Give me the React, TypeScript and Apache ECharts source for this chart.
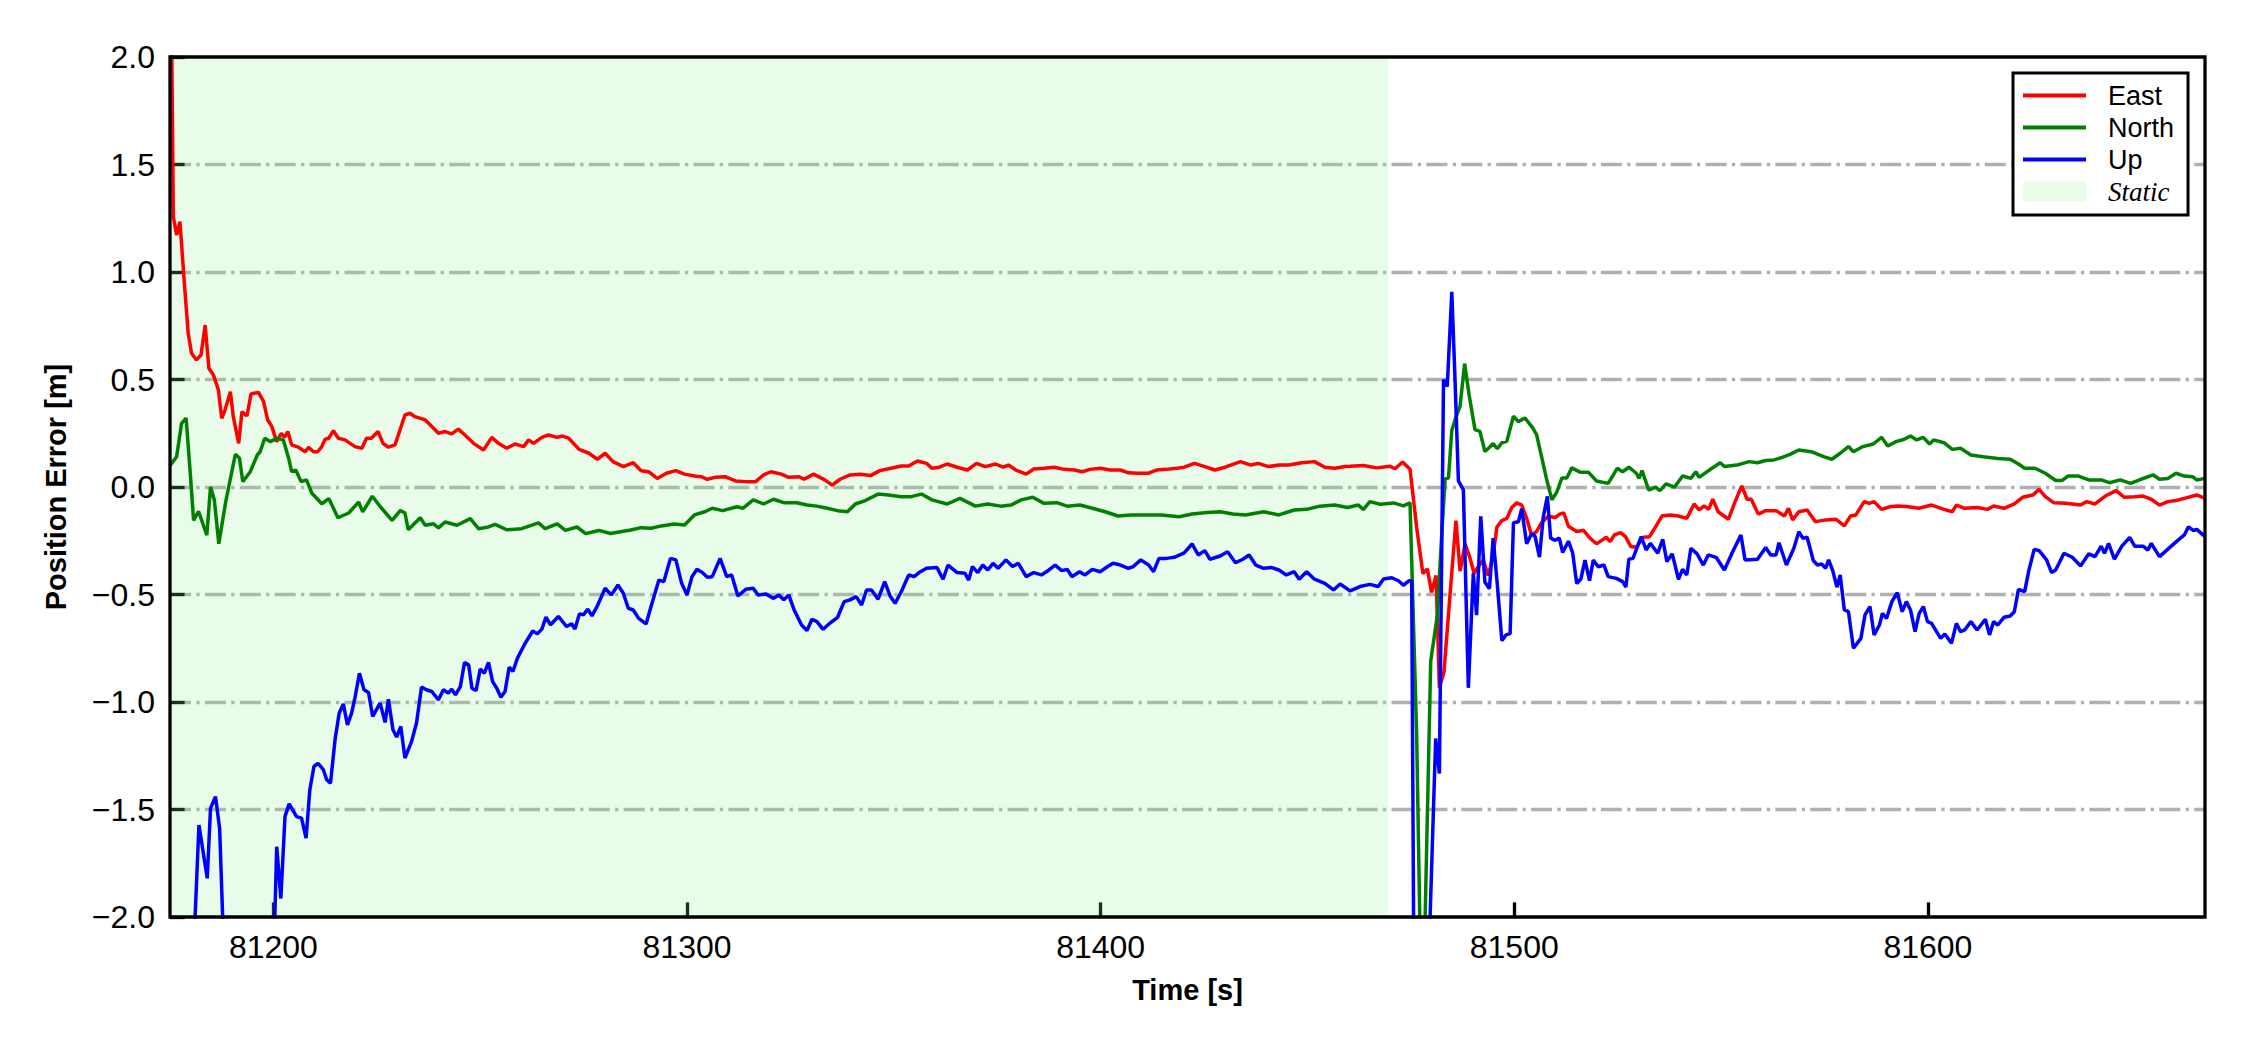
import React, { useEffect, useRef } from "react";
import * as echarts from "echarts";

// ---------------- data ----------------
const X_MIN = 81175;
const X_MAX = 81667;
const STATIC_START = 81175;
const STATIC_END = 81469.5;
const xTicks = [81200, 81300, 81400, 81500, 81600];
const seriesNames = ["East", "North", "Up"];
const staticName = "Static";

const east: [number, number][] = [
  [81175.0, 2.9], [81175.8, 1.257], [81176.6, 1.172], [81177.4, 1.234], [81178.6, 0.916], [81179.4, 0.715],
  [81180.2, 0.622], [81181.4, 0.591], [81182.5, 0.614], [81183.5, 0.753], [81184.4, 0.552], [81185.5, 0.521],
  [81186.7, 0.451], [81187.5, 0.319], [81188.3, 0.358], [81189.6, 0.443], [81190.3, 0.327], [81191.6, 0.203],
  [81192.4, 0.35], [81193.6, 0.33], [81194.6, 0.433], [81196.4, 0.44], [81197.6, 0.398], [81198.6, 0.313],
  [81199.6, 0.282], [81200.8, 0.211], [81201.9, 0.25], [81202.7, 0.231], [81203.5, 0.258], [81204.4, 0.196],
  [81206.0, 0.185], [81207.7, 0.164], [81208.5, 0.185], [81209.7, 0.164], [81210.7, 0.164], [81211.7, 0.188],
  [81212.5, 0.222], [81213.4, 0.227], [81214.5, 0.262], [81215.7, 0.227], [81217.3, 0.219], [81219.7, 0.188],
  [81221.4, 0.18], [81222.5, 0.227], [81223.7, 0.227], [81225.3, 0.258], [81226.5, 0.203], [81227.8, 0.185],
  [81229.4, 0.196], [81230.6, 0.265], [81231.8, 0.335], [81233.0, 0.343], [81234.2, 0.327], [81236.7, 0.312],
  [81238.3, 0.281], [81239.9, 0.25], [81241.5, 0.258], [81243.1, 0.247], [81244.7, 0.269], [81246.3, 0.242],
  [81248.4, 0.203], [81250.8, 0.172], [81252.8, 0.231], [81254.4, 0.203], [81256.4, 0.18], [81258.4, 0.2],
  [81260.5, 0.188], [81261.7, 0.219], [81262.9, 0.203], [81264.9, 0.231], [81266.5, 0.242], [81268.6, 0.231],
  [81269.8, 0.237], [81271.4, 0.227], [81273.9, 0.175], [81276.3, 0.157], [81278.3, 0.129], [81280.2, 0.157],
  [81282.1, 0.118], [81284.6, 0.095], [81287.0, 0.113], [81288.9, 0.076], [81290.7, 0.071], [81292.8, 0.04],
  [81295.0, 0.064], [81297.3, 0.076], [81299.4, 0.06], [81301.8, 0.051], [81303.4, 0.048], [81304.9, 0.036],
  [81306.8, 0.045], [81309.2, 0.048], [81311.7, 0.028], [81314.2, 0.025], [81316.6, 0.025], [81318.5, 0.056],
  [81320.3, 0.071], [81322.8, 0.06], [81324.6, 0.045], [81327.1, 0.048], [81328.3, 0.036], [81330.6, 0.06],
  [81333.3, 0.033], [81335.1, 0.009], [81337.0, 0.036], [81339.4, 0.056], [81341.9, 0.059], [81344.4, 0.053],
  [81346.6, 0.076], [81349.3, 0.087], [81351.8, 0.098], [81353.6, 0.098], [81355.7, 0.121], [81357.9, 0.11],
  [81359.2, 0.087], [81361.0, 0.092], [81362.9, 0.107], [81365.3, 0.092], [81367.8, 0.079], [81370.0, 0.11],
  [81372.1, 0.095], [81374.6, 0.107], [81376.4, 0.092], [81377.7, 0.102], [81379.5, 0.079], [81382.0, 0.06],
  [81383.8, 0.084], [81386.3, 0.087], [81388.8, 0.092], [81391.2, 0.082], [81393.7, 0.079], [81395.6, 0.071],
  [81397.4, 0.082], [81399.9, 0.087], [81402.3, 0.079], [81404.8, 0.079], [81406.7, 0.066], [81409.1, 0.064],
  [81411.6, 0.064], [81413.5, 0.079], [81415.9, 0.082], [81418.4, 0.087], [81420.2, 0.092], [81422.7, 0.11],
  [81425.2, 0.095], [81427.6, 0.079], [81430.1, 0.092], [81433.8, 0.118], [81436.3, 0.102], [81438.1, 0.11],
  [81440.6, 0.095], [81443.1, 0.102], [81445.5, 0.102], [81448.6, 0.113], [81451.7, 0.118], [81454.2, 0.092],
  [81456.6, 0.087], [81459.1, 0.095], [81460.3, 0.096], [81463.5, 0.1], [81466.7, 0.089], [81470.0, 0.096],
  [81471.2, 0.085], [81473.0, 0.116], [81474.8, 0.083], [81476.4, -0.187], [81477.9, -0.402], [81479.0, -0.381],
  [81480.0, -0.49], [81481.1, -0.412], [81481.9, -0.934], [81483.0, -0.862], [81484.5, -0.494], [81485.9, -0.156],
  [81486.9, -0.391], [81488.1, -0.264], [81489.3, -0.33], [81490.3, -0.402], [81491.3, -0.371], [81492.5, -0.34],
  [81493.7, -0.412], [81494.8, -0.33], [81495.8, -0.187], [81497.0, -0.156], [81498.2, -0.146], [81499.4, -0.095],
  [81500.6, -0.074], [81501.8, -0.084], [81503.0, -0.146], [81504.2, -0.224], [81505.4, -0.207], [81506.6, -0.166],
  [81508.2, -0.136], [81509.9, -0.142], [81511.1, -0.125], [81512.0, -0.121], [81513.1, -0.183], [81515.1, -0.207],
  [81516.7, -0.201], [81518.3, -0.238], [81519.9, -0.264], [81520.7, -0.254], [81522.2, -0.234], [81523.2, -0.254],
  [81524.2, -0.223], [81525.7, -0.212], [81526.9, -0.231], [81528.2, -0.277], [81529.5, -0.28], [81531.2, -0.234],
  [81532.7, -0.231], [81534.2, -0.184], [81535.7, -0.135], [81537.7, -0.13], [81539.7, -0.135], [81541.7, -0.146],
  [81543.5, -0.079], [81544.7, -0.107], [81545.9, -0.088], [81547.0, -0.104], [81548.0, -0.057], [81549.3, -0.115],
  [81551.8, -0.15], [81553.3, -0.073], [81555.0, 0.005], [81556.3, -0.057], [81557.3, -0.057], [81559.0, -0.126],
  [81560.8, -0.11], [81563.3, -0.11], [81565.3, -0.135], [81566.3, -0.099], [81567.3, -0.153], [81568.8, -0.115],
  [81570.8, -0.107], [81572.8, -0.161], [81575.3, -0.153], [81577.8, -0.15], [81579.8, -0.181], [81581.3, -0.135],
  [81582.6, -0.13], [81584.6, -0.068], [81585.8, -0.076], [81587.0, -0.068], [81588.8, -0.104], [81590.8, -0.092],
  [81592.8, -0.088], [81595.3, -0.092], [81597.8, -0.099], [81600.9, -0.084], [81603.9, -0.104], [81605.9, -0.115],
  [81606.9, -0.084], [81608.9, -0.099], [81611.9, -0.095], [81614.4, -0.104], [81615.9, -0.088], [81618.4, -0.099],
  [81620.9, -0.079], [81622.9, -0.048], [81625.4, -0.037], [81626.9, -0.011], [81628.4, -0.045], [81630.4, -0.073],
  [81633.4, -0.076], [81636.9, -0.084], [81638.4, -0.068], [81640.4, -0.079], [81642.9, -0.042], [81645.5, -0.017],
  [81647.5, -0.048], [81650.0, -0.045], [81652.0, -0.042], [81654.0, -0.057], [81656.0, -0.084], [81658.0, -0.068],
  [81660.0, -0.063], [81662.0, -0.053], [81665.0, -0.037], [81667.0, -0.053],
];

const north: [number, number][] = [
  [81175.0, 0.1], [81176.6, 0.141], [81177.8, 0.296], [81178.9, 0.32], [81179.9, 0.064], [81180.7, -0.155],
  [81181.9, -0.113], [81183.9, -0.224], [81184.8, 0.0], [81185.7, -0.058], [81186.8, -0.264], [81188.5, -0.065],
  [81190.8, 0.152], [81191.8, 0.134], [81192.6, 0.025], [81194.4, 0.071], [81196.1, 0.149], [81196.8, 0.164],
  [81197.9, 0.227], [81199.3, 0.211], [81200.8, 0.227], [81202.4, 0.219], [81203.7, 0.133], [81204.4, 0.071],
  [81205.4, 0.079], [81206.7, 0.025], [81208.0, 0.033], [81209.3, -0.029], [81211.7, -0.078], [81213.4, -0.054],
  [81215.6, -0.143], [81218.2, -0.121], [81220.6, -0.07], [81221.6, -0.116], [81223.9, -0.043], [81225.9, -0.093],
  [81228.7, -0.155], [81230.7, -0.109], [81231.8, -0.121], [81232.6, -0.199], [81235.5, -0.143], [81236.7, -0.178],
  [81238.7, -0.171], [81239.9, -0.19], [81241.5, -0.163], [81244.4, -0.178], [81247.6, -0.147], [81249.6, -0.194],
  [81252.0, -0.186], [81253.6, -0.174], [81256.4, -0.199], [81260.0, -0.194], [81264.1, -0.167], [81265.7, -0.194],
  [81268.6, -0.171], [81270.6, -0.202], [81273.4, -0.186], [81275.5, -0.217], [81278.7, -0.202], [81281.5, -0.216],
  [81283.9, -0.208], [81286.4, -0.2], [81288.9, -0.189], [81291.3, -0.192], [81293.8, -0.181], [81296.9, -0.172],
  [81299.4, -0.177], [81301.8, -0.13], [81304.3, -0.115], [81306.1, -0.099], [81308.6, -0.11], [81312.1, -0.092],
  [81313.5, -0.099], [81316.0, -0.06], [81318.5, -0.079], [81320.9, -0.057], [81323.4, -0.073], [81326.5, -0.073],
  [81329.0, -0.084], [81331.4, -0.089], [81333.9, -0.099], [81336.4, -0.11], [81338.8, -0.115], [81340.7, -0.079],
  [81343.1, -0.063], [81346.2, -0.033], [81348.7, -0.037], [81351.8, -0.045], [81354.2, -0.045], [81356.7, -0.033],
  [81359.2, -0.06], [81362.9, -0.079], [81366.0, -0.053], [81369.7, -0.089], [81372.7, -0.079], [81375.8, -0.089],
  [81378.3, -0.084], [81380.8, -0.06], [81383.6, -0.048], [81386.3, -0.076], [81389.4, -0.073], [81391.9, -0.089],
  [81395.0, -0.084], [81398.0, -0.099], [81401.1, -0.115], [81404.2, -0.135], [81407.3, -0.13], [81411.0, -0.13],
  [81414.7, -0.13], [81419.0, -0.138], [81422.1, -0.126], [81425.8, -0.119], [81428.9, -0.115], [81432.0, -0.126],
  [81435.0, -0.13], [81439.4, -0.115], [81443.1, -0.13], [81446.8, -0.107], [81449.8, -0.104], [81453.0, -0.089],
  [81456.6, -0.084], [81459.7, -0.095], [81462.3, -0.084], [81463.5, -0.105], [81465.1, -0.068], [81467.6, -0.08],
  [81470.8, -0.074], [81473.2, -0.088], [81474.8, -0.074], [81476.4, -1.148], [81477.2, -2.05], [81477.8, -2.4],
  [81478.4, -2.05], [81479.8, -0.811], [81481.4, -0.596], [81482.5, -0.207], [81483.3, 0.038], [81484.1, 0.042],
  [81484.9, 0.263], [81485.9, 0.325], [81486.9, 0.376], [81488.0, 0.574], [81489.1, 0.427], [81490.5, 0.267],
  [81491.7, 0.259], [81492.9, 0.165], [81494.1, 0.186], [81494.9, 0.202], [81495.9, 0.178], [81497.0, 0.206],
  [81498.2, 0.212], [81499.8, 0.329], [81501.0, 0.304], [81502.6, 0.321], [81504.5, 0.274], [81505.4, 0.243],
  [81506.6, 0.141], [81507.8, 0.038], [81509.1, -0.06], [81510.3, -0.023], [81511.5, 0.042], [81512.7, 0.042],
  [81513.9, 0.089], [81515.9, 0.069], [81517.9, 0.069], [81519.9, 0.028], [81522.7, 0.017], [81524.9, 0.087],
  [81526.2, 0.071], [81527.7, 0.092], [81529.5, 0.064], [81530.2, 0.04], [81530.9, 0.076], [81532.5, -0.014],
  [81534.2, -0.001], [81535.2, -0.017], [81536.7, 0.014], [81538.7, -0.001], [81540.7, 0.051], [81542.7, 0.04],
  [81543.9, 0.071], [81544.7, 0.045], [81546.3, 0.067], [81547.8, 0.087], [81549.8, 0.113], [81550.8, 0.095],
  [81553.8, 0.102], [81556.8, 0.118], [81558.8, 0.113], [81560.8, 0.123], [81562.8, 0.126], [81564.8, 0.138],
  [81566.8, 0.153], [81568.8, 0.172], [81571.8, 0.164], [81574.8, 0.141], [81576.8, 0.129], [81578.8, 0.157],
  [81580.8, 0.188], [81582.0, 0.164], [81584.3, 0.188], [81586.8, 0.2], [81588.8, 0.231], [81590.3, 0.191],
  [81592.3, 0.211], [81594.3, 0.222], [81595.8, 0.237], [81597.3, 0.219], [81598.9, 0.231], [81600.4, 0.2],
  [81601.4, 0.219], [81603.9, 0.206], [81605.9, 0.175], [81607.9, 0.18], [81610.4, 0.149], [81613.4, 0.141],
  [81616.9, 0.133], [81619.9, 0.129], [81621.9, 0.107], [81623.4, 0.087], [81625.9, 0.087], [81628.4, 0.064],
  [81630.9, 0.03], [81632.4, 0.03], [81633.9, 0.051], [81636.4, 0.051], [81638.9, 0.033], [81641.9, 0.033],
  [81643.9, 0.02], [81646.5, 0.033], [81649.0, 0.017], [81651.5, 0.036], [81654.5, 0.056], [81656.0, 0.036],
  [81658.0, 0.04], [81660.0, 0.064], [81662.0, 0.051], [81664.0, 0.048], [81665.0, 0.033], [81667.0, 0.04],
];

const up: [number, number][] = [
  [81175.0, -2.6], [81180.3, -2.35], [81182.0, -1.572], [81184.0, -1.82], [81184.8, -1.494], [81186.0, -1.44],
  [81187.0, -1.588], [81188.8, -2.6], [81192.0, -2.9], [81196.0, -2.8], [81199.5, -2.6], [81200.8, -1.673],
  [81201.8, -1.914], [81202.8, -1.533], [81203.8, -1.474], [81205.6, -1.533], [81206.8, -1.54], [81207.9, -1.633],
  [81208.8, -1.409], [81209.8, -1.3], [81210.8, -1.285], [81212.1, -1.316], [81212.9, -1.362], [81213.8, -1.378],
  [81214.9, -1.176], [81215.9, -1.052], [81216.9, -1.009], [81217.9, -1.106], [81218.9, -1.052], [81219.7, -0.982],
  [81220.8, -0.866], [81221.9, -0.943], [81223.0, -0.956], [81224.0, -1.067], [81225.8, -1.005], [81227.0, -1.095],
  [81227.8, -0.987], [81228.9, -1.129], [81229.8, -1.163], [81230.8, -1.114], [81231.8, -1.261], [81233.4, -1.184],
  [81234.6, -1.098], [81235.8, -0.931], [81237.0, -0.943], [81238.3, -0.951], [81239.9, -0.99], [81241.1, -0.943],
  [81242.3, -0.959], [81243.1, -0.94], [81244.0, -0.967], [81245.2, -0.928], [81246.2, -0.816], [81247.2, -0.827],
  [81248.0, -0.936], [81249.0, -0.947], [81250.0, -0.847], [81251.0, -0.866], [81252.0, -0.816], [81253.0, -0.905],
  [81254.0, -0.936], [81255.0, -0.978], [81256.0, -0.951], [81257.0, -0.838], [81257.9, -0.858], [81259.0, -0.796],
  [81260.8, -0.729], [81262.7, -0.669], [81263.8, -0.683], [81264.9, -0.661], [81265.9, -0.605], [81267.0, -0.641],
  [81268.9, -0.602], [81270.9, -0.649], [81272.1, -0.636], [81272.9, -0.661], [81274.0, -0.59], [81275.0, -0.594],
  [81276.0, -0.568], [81277.0, -0.599], [81278.2, -0.558], [81280.2, -0.471], [81281.7, -0.502], [81283.3, -0.456],
  [81284.6, -0.494], [81285.8, -0.564], [81287.0, -0.572], [81288.3, -0.611], [81290.1, -0.637], [81291.3, -0.556],
  [81293.2, -0.433], [81294.4, -0.44], [81296.0, -0.332], [81297.3, -0.339], [81298.7, -0.448], [81300.0, -0.502],
  [81301.2, -0.417], [81302.4, -0.383], [81303.7, -0.398], [81304.9, -0.42], [81306.1, -0.417], [81308.0, -0.332],
  [81309.6, -0.417], [81310.8, -0.409], [81312.3, -0.507], [81314.2, -0.476], [81316.0, -0.471], [81317.2, -0.502],
  [81319.1, -0.498], [81320.9, -0.518], [81322.2, -0.502], [81323.4, -0.525], [81324.6, -0.502], [81325.9, -0.572],
  [81327.7, -0.642], [81329.0, -0.668], [81330.2, -0.615], [81331.4, -0.626], [81332.9, -0.662], [81334.5, -0.634],
  [81336.4, -0.606], [81338.0, -0.533], [81339.4, -0.525], [81340.9, -0.51], [81342.2, -0.549], [81343.4, -0.479],
  [81344.6, -0.479], [81346.2, -0.522], [81347.8, -0.44], [81349.1, -0.507], [81350.3, -0.541], [81351.8, -0.487],
  [81353.6, -0.409], [81354.9, -0.417], [81356.1, -0.398], [81357.9, -0.378], [81360.4, -0.374], [81361.9, -0.429],
  [81363.1, -0.363], [81365.3, -0.398], [81367.2, -0.401], [81368.1, -0.433], [81369.0, -0.37], [81370.3, -0.398],
  [81371.5, -0.363], [81372.7, -0.386], [81374.0, -0.355], [81375.2, -0.378], [81377.1, -0.339], [81378.7, -0.37],
  [81380.1, -0.355], [81382.0, -0.417], [81383.8, -0.398], [81385.7, -0.409], [81387.5, -0.386], [81389.0, -0.363],
  [81390.6, -0.389], [81391.9, -0.383], [81393.1, -0.417], [81394.9, -0.394], [81396.2, -0.409], [81398.0, -0.383],
  [81399.9, -0.394], [81401.7, -0.37], [81403.0, -0.355], [81404.8, -0.363], [81406.7, -0.378], [81407.9, -0.37],
  [81409.7, -0.339], [81411.6, -0.363], [81412.8, -0.394], [81414.1, -0.332], [81415.9, -0.332], [81417.8, -0.327],
  [81420.2, -0.306], [81422.1, -0.265], [81423.6, -0.316], [81425.2, -0.296], [81426.4, -0.336], [81428.9, -0.321],
  [81430.7, -0.301], [81432.6, -0.352], [81434.4, -0.336], [81435.9, -0.316], [81437.5, -0.363], [81439.4, -0.378],
  [81441.2, -0.374], [81443.1, -0.386], [81444.9, -0.409], [81446.8, -0.394], [81448.0, -0.429], [81449.8, -0.394],
  [81451.7, -0.429], [81454.2, -0.448], [81456.3, -0.479], [81457.9, -0.451], [81460.3, -0.483], [81462.7, -0.463],
  [81465.1, -0.453], [81467.1, -0.463], [81468.4, -0.428], [81470.4, -0.422], [81472.0, -0.436], [81473.2, -0.457],
  [81474.6, -0.436], [81475.2, -0.436], [81476.0, -3.2], [81477.5, -3.6], [81479.0, -2.4], [81481.0, -1.17],
  [81481.9, -1.333], [81482.9, 0.499], [81483.8, 0.468], [81484.9, 0.908], [81485.7, 0.488], [81486.5, 0.028],
  [81487.7, -0.013], [81488.9, -0.934], [81490.1, -0.402], [81490.9, -0.596], [81491.9, -0.136], [81492.9, -0.442],
  [81494.0, -0.473], [81494.9, -0.238], [81495.9, -0.453], [81497.0, -0.715], [81498.0, -0.688], [81499.0, -0.682],
  [81499.8, -0.166], [81501.0, -0.162], [81501.8, -0.101], [81503.0, -0.264], [81504.2, -0.217], [81505.0, -0.228],
  [81506.1, -0.326], [81507.0, -0.142], [81508.0, -0.044], [81508.8, -0.238], [81509.9, -0.248], [81510.9, -0.238],
  [81511.7, -0.305], [81513.1, -0.252], [81514.1, -0.305], [81515.1, -0.449], [81516.1, -0.428], [81517.1, -0.34],
  [81518.2, -0.436], [81519.1, -0.34], [81520.3, -0.371], [81521.7, -0.363], [81522.7, -0.417], [81524.7, -0.425],
  [81526.2, -0.44], [81527.0, -0.466], [81527.7, -0.336], [81528.7, -0.332], [81530.7, -0.231], [81531.9, -0.293],
  [81532.9, -0.262], [81534.7, -0.308], [81535.9, -0.243], [81536.9, -0.347], [81538.2, -0.311], [81539.7, -0.429],
  [81540.7, -0.383], [81541.7, -0.409], [81542.7, -0.285], [81544.2, -0.311], [81545.7, -0.363], [81546.9, -0.316],
  [81548.8, -0.327], [81550.8, -0.386], [81552.8, -0.301], [81554.8, -0.223], [81555.8, -0.339], [81558.8, -0.336],
  [81560.8, -0.281], [81562.0, -0.316], [81563.3, -0.316], [81564.0, -0.259], [81565.8, -0.363], [81567.6, -0.285],
  [81568.8, -0.208], [81569.8, -0.239], [81570.8, -0.234], [81572.3, -0.342], [81573.3, -0.363], [81574.3, -0.358],
  [81575.3, -0.378], [81576.0, -0.339], [81577.0, -0.389], [81578.0, -0.466], [81578.8, -0.409], [81579.8, -0.572],
  [81580.8, -0.58], [81582.0, -0.75], [81583.8, -0.704], [81584.8, -0.595], [81586.0, -0.556], [81587.0, -0.688],
  [81588.3, -0.642], [81589.0, -0.588], [81590.0, -0.611], [81591.3, -0.533], [81592.6, -0.491], [81593.8, -0.58],
  [81594.8, -0.533], [81595.8, -0.572], [81596.9, -0.673], [81597.9, -0.588], [81598.9, -0.556], [81599.9, -0.626],
  [81600.9, -0.634], [81602.1, -0.673], [81603.1, -0.704], [81604.1, -0.684], [81605.7, -0.727], [81606.9, -0.634],
  [81607.9, -0.673], [81608.9, -0.665], [81610.4, -0.626], [81611.9, -0.665], [81613.9, -0.615], [81614.9, -0.688],
  [81615.9, -0.626], [81616.9, -0.642], [81618.4, -0.606], [81619.9, -0.6], [81620.9, -0.58], [81621.9, -0.476],
  [81623.4, -0.487], [81624.4, -0.389], [81625.7, -0.29], [81626.9, -0.296], [81628.7, -0.339], [81629.9, -0.398],
  [81630.9, -0.386], [81632.9, -0.308], [81634.9, -0.327], [81636.9, -0.367], [81638.9, -0.311], [81640.4, -0.324],
  [81641.9, -0.275], [81642.7, -0.308], [81643.7, -0.262], [81645.1, -0.336], [81646.9, -0.275], [81648.8, -0.234],
  [81650.0, -0.275], [81652.0, -0.275], [81653.2, -0.293], [81654.0, -0.262], [81656.0, -0.324], [81658.5, -0.281],
  [81660.5, -0.247], [81662.0, -0.223], [81663.0, -0.185], [81664.2, -0.203], [81665.0, -0.197], [81667.0, -0.231],
];

// ---------------- styles ----------------
const SANS = "'Liberation Sans', Arial, sans-serif";
const SERIF = "'Liberation Serif', 'Times New Roman', serif";
const COLORS = ["#ff0000", "#008000", "#0000ff"];
const STATIC_COLOR = "rgba(144,238,144,0.2)";
const LINE_ICON = "path://M0,0 H63 V4 H0 Z";

const fmtY = (v: number) => (v < 0 ? "\u2212" : "") + Math.abs(v).toFixed(1);

export default function App() {
  const ref = useRef<HTMLDivElement>(null);

  useEffect(() => {
    if (!ref.current) return;
    const chart = echarts.init(ref.current, undefined, { renderer: "svg" });
    const lineData = [east, north, up];

    const option: any = {
      animation: false,
      backgroundColor: "#ffffff",
      grid: {
        left: 170,
        right: 45,
        top: 57,
        bottom: 133,
        show: false,
      },
      legend: {
        orient: "vertical",
        left: 2013,
        top: 73,
        selectedMode: false,
        backgroundColor: "#fff",
        borderColor: "#000",
        borderWidth: 3,
        borderRadius: 0,
        padding: [9, 14, 10, 10],
        itemWidth: 63,
        itemHeight: 20,
        itemGap: 5,
        symbolKeepAspect: true,
        textStyle: {
          fontFamily: SANS,
          fontSize: 27,
          color: "#000",
          padding: [0, 0, 0, 17],
        },
        data: [
          ...seriesNames.map((n) => ({ name: n, icon: LINE_ICON })),
          {
            name: staticName,
            icon: "rect",
            textStyle: { fontFamily: SERIF, fontStyle: "italic", fontSize: 27 },
          },
        ],
      },
      xAxis: {
        type: "value",
        min: X_MIN,
        max: X_MAX,
        name: "Time [s]",
        nameLocation: "middle",
        nameGap: 58,
        nameTextStyle: { fontFamily: SANS, fontSize: 29, fontWeight: "bold", color: "#000" },
        axisLine: { show: false, onZero: false },
        axisTick: {
          show: true,
          inside: true,
          length: 14.6,
          lineStyle: { color: "#000", width: 3.3 },
          customValues: xTicks,
        },
        axisLabel: {
          show: true,
          margin: 14,
          fontFamily: SANS,
          fontSize: 32,
          color: "#000",
          customValues: xTicks,
          formatter: (v: number) => String(v),
        },
        splitLine: { show: false },
      },
      yAxis: {
        type: "value",
        min: -2,
        max: 2,
        interval: 0.5,
        name: "Position Error [m]",
        nameLocation: "middle",
        nameRotate: 90,
        nameGap: 100,
        nameTextStyle: { fontFamily: SANS, fontSize: 29, fontWeight: "bold", color: "#000" },
        axisLine: { show: false, onZero: false },
        axisTick: {
          show: true,
          inside: true,
          length: 14.6,
          lineStyle: { color: "#000", width: 3.3 },
        },
        axisLabel: {
          margin: 15,
          fontFamily: SANS,
          fontSize: 32,
          color: "#000",
          formatter: fmtY,
        },
        splitLine: {
          show: true,
          showMinLine: false,
          showMaxLine: false,
          lineStyle: { color: "#b0b0b0", width: 3.3, type: [21, 5.3, 3.3, 5.3] },
        },
      },
      graphic: [
        {
          type: "rect",
          z: 100,
          silent: true,
          shape: { x: 170, y: 57, width: 2035, height: 860 },
          style: { fill: "none", stroke: "#000", lineWidth: 3.3 },
        },
      ],
      series: [
        {
          name: staticName,
          type: "line",
          data: [],
          z: -1,
          symbol: "none",
          itemStyle: { color: STATIC_COLOR },
          lineStyle: { color: STATIC_COLOR },
          markArea: {
            silent: true,
            itemStyle: { color: STATIC_COLOR },
            data: [[{ xAxis: STATIC_START }, { xAxis: STATIC_END }]],
          },
        },
        ...seriesNames.map((n, i) => ({
          name: n,
          type: "line",
          data: lineData[i],
          symbol: "none",
          showSymbol: false,
          clip: true,
          color: COLORS[i],
          lineStyle: { color: COLORS[i], width: 3.5 },
          itemStyle: { color: COLORS[i] },
        })),
      ],
    };
    chart.setOption(option);
    return () => chart.dispose();
  }, []);

  return (
    <div
      ref={ref}
      style={{ position: "absolute", left: 0, top: 0, width: 2250, height: 1050, background: "#fff" }}
    />
  );
}
